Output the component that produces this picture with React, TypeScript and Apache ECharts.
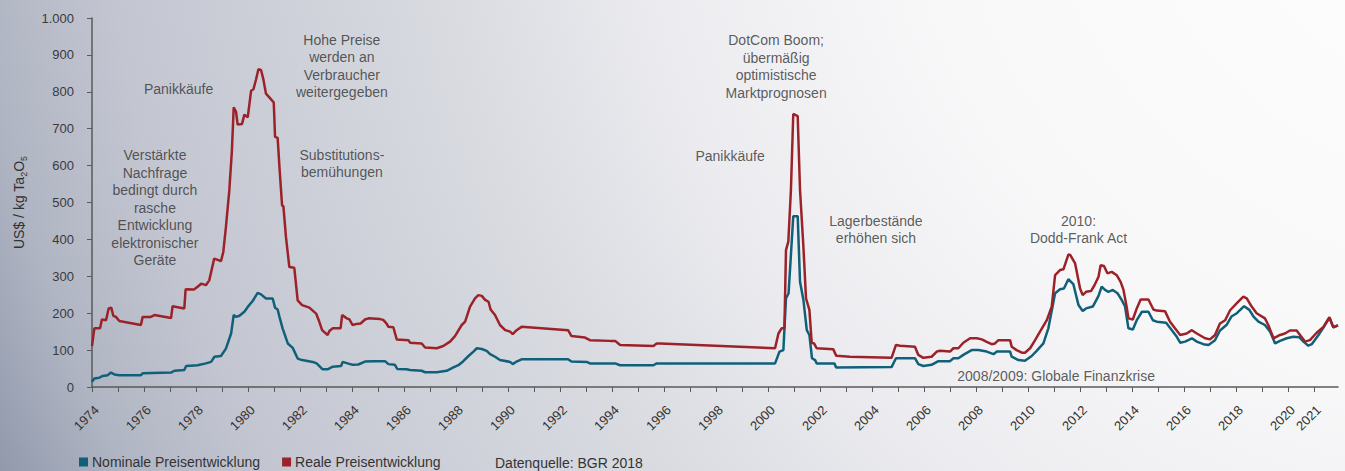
import React, { useEffect, useRef } from "react";
import * as echarts from "echarts";

const FONT = "'Liberation Sans', Arial, Helvetica, sans-serif";

// Nominal price (US$/kg Ta2O5): [year, value]
const nominalPoints: [number, number][] = [
  [1974.0, 14], [1974.09, 23], [1974.28, 25], [1974.41, 30], [1974.6, 32], [1974.73, 39], [1974.86, 34],
  [1975.05, 32], [1975.88, 32], [1975.95, 37], [1977.04, 39], [1977.17, 44], [1977.55, 46], [1977.62, 57],
  [1978.06, 59], [1978.38, 64], [1978.58, 68], [1978.71, 82], [1978.96, 84], [1979.15, 104], [1979.35, 145],
  [1979.45, 195], [1979.54, 190], [1979.67, 193], [1979.86, 204], [1979.99, 217], [1980.18, 233], [1980.37, 255],
  [1980.5, 251], [1980.69, 240], [1980.95, 240], [1981.04, 215], [1981.14, 210], [1981.21, 190], [1981.33, 159],
  [1981.53, 118], [1981.72, 106], [1981.91, 77], [1982.08, 73], [1982.49, 68], [1982.64, 64], [1982.87, 48],
  [1983.06, 48], [1983.26, 55], [1983.58, 57], [1983.64, 68], [1983.83, 64], [1984.03, 60], [1984.24, 61],
  [1984.5, 69], [1984.82, 70], [1985.27, 70], [1985.4, 62], [1985.65, 60], [1985.74, 49], [1986.1, 48],
  [1986.23, 46], [1986.68, 44], [1986.81, 40], [1987.26, 40], [1987.64, 44], [1987.9, 53], [1988.09, 59],
  [1988.28, 70], [1988.48, 84], [1988.67, 96], [1988.8, 105], [1988.99, 103], [1989.18, 98], [1989.31, 89],
  [1989.5, 82], [1989.69, 73], [1990.08, 68], [1990.18, 62], [1990.33, 69], [1990.52, 75], [1992.31, 75],
  [1992.44, 69], [1993.03, 68], [1993.15, 64], [1994.12, 64], [1994.31, 59], [1995.59, 59], [1995.72, 64],
  [2000.27, 64], [2000.44, 96], [2000.59, 100], [2000.69, 240], [2000.79, 254], [2000.97, 463], [2001.14, 463],
  [2001.23, 285], [2001.36, 236], [2001.49, 154], [2001.59, 141], [2001.69, 78], [2001.81, 73], [2001.87, 64],
  [2002.55, 64], [2002.62, 53], [2004.75, 54], [2004.92, 78], [2005.65, 78], [2005.78, 62], [2005.97, 57],
  [2006.29, 60], [2006.55, 70], [2007.0, 70], [2007.13, 78], [2007.32, 78], [2007.51, 87], [2007.83, 100],
  [2008.09, 100], [2008.41, 96], [2008.67, 89], [2008.8, 96], [2009.31, 96], [2009.37, 82], [2009.63, 73],
  [2009.88, 71], [2010.14, 84], [2010.33, 98], [2010.59, 118], [2010.78, 159], [2011.04, 254], [2011.23, 265],
  [2011.38, 267], [2011.55, 292], [2011.74, 279], [2011.94, 222], [2012.1, 206], [2012.23, 213], [2012.49, 218],
  [2012.71, 247], [2012.83, 272], [2012.96, 263], [2013.09, 258], [2013.26, 263], [2013.44, 254], [2013.6, 236],
  [2013.73, 218], [2013.86, 159], [2014.03, 156], [2014.18, 181], [2014.38, 204], [2014.63, 204], [2014.8, 181],
  [2014.95, 177], [2015.31, 174], [2015.53, 154], [2015.72, 136], [2015.85, 120], [2016.04, 123], [2016.3, 132],
  [2016.49, 123], [2016.74, 116], [2016.94, 114], [2017.19, 127], [2017.38, 153], [2017.63, 168], [2017.82, 191],
  [2018.03, 200], [2018.31, 219], [2018.51, 209], [2018.67, 191], [2018.86, 177], [2019.11, 168], [2019.31, 150],
  [2019.5, 118], [2019.69, 125], [2019.95, 132], [2020.2, 136], [2020.43, 135], [2020.59, 123], [2020.78, 112],
  [2020.91, 116], [2021.17, 141], [2021.36, 161], [2021.59, 188], [2021.74, 162], [2021.92, 167],
];

// Real price (US$/kg Ta2O5): [year, value]
const realPoints: [number, number][] = [
  [1974.0, 111], [1974.09, 159], [1974.31, 159], [1974.38, 183], [1974.54, 181], [1974.64, 213], [1974.74, 215],
  [1974.82, 193], [1974.92, 190], [1975.05, 179], [1975.88, 168], [1975.95, 190], [1976.26, 190], [1976.4, 195],
  [1977.04, 187], [1977.1, 219], [1977.55, 213], [1977.6, 265], [1977.92, 264], [1978.05, 271], [1978.2, 280],
  [1978.38, 276], [1978.51, 289], [1978.7, 348], [1978.96, 341], [1979.05, 366], [1979.15, 433], [1979.28, 532],
  [1979.38, 640], [1979.45, 758], [1979.54, 746], [1979.6, 711], [1979.77, 713], [1979.86, 738], [1979.99, 731],
  [1980.12, 803], [1980.21, 807], [1980.31, 834], [1980.4, 861], [1980.5, 859], [1980.59, 834], [1980.69, 795],
  [1980.82, 785], [1980.99, 771], [1981.04, 678], [1981.14, 675], [1981.21, 595], [1981.31, 492], [1981.36, 490],
  [1981.46, 406], [1981.59, 325], [1981.78, 323], [1981.91, 235], [1982.08, 222], [1982.36, 215], [1982.62, 199],
  [1982.72, 181], [1982.85, 154], [1983.06, 141], [1983.13, 152], [1983.26, 159], [1983.56, 159], [1983.62, 195],
  [1983.8, 186], [1983.9, 183], [1984.02, 168], [1984.18, 171], [1984.33, 172], [1984.5, 183], [1984.63, 186],
  [1985.08, 184], [1985.2, 182], [1985.33, 172], [1985.4, 163], [1985.59, 162], [1985.72, 129], [1986.17, 127],
  [1986.23, 120], [1986.68, 118], [1986.81, 107], [1987.26, 105], [1987.51, 111], [1987.77, 123], [1987.96, 138],
  [1988.22, 168], [1988.35, 177], [1988.54, 218], [1988.73, 240], [1988.86, 249], [1988.99, 247], [1989.12, 236],
  [1989.25, 231], [1989.33, 210], [1989.5, 195], [1989.69, 168], [1989.89, 154], [1990.08, 150], [1990.18, 143],
  [1990.33, 154], [1990.52, 163], [1992.31, 154], [1992.44, 138], [1992.96, 134], [1993.15, 127], [1993.92, 125],
  [1994.12, 125], [1994.31, 114], [1995.59, 111], [1995.72, 118], [1995.85, 118], [2000.27, 105], [2000.4, 145],
  [2000.52, 159], [2000.63, 159], [2000.69, 371], [2000.78, 394], [2000.88, 534], [2000.97, 740], [2001.14, 734],
  [2001.23, 534], [2001.36, 380], [2001.46, 240], [2001.59, 209], [2001.68, 120], [2001.77, 118], [2001.87, 105],
  [2002.51, 102], [2002.62, 85], [2003.15, 82], [2004.75, 79], [2004.92, 114], [2005.08, 112], [2005.65, 109],
  [2005.78, 87], [2005.97, 79], [2006.29, 82], [2006.49, 96], [2006.62, 98], [2007.0, 96], [2007.13, 105],
  [2007.32, 105], [2007.51, 120], [2007.77, 132], [2008.03, 132], [2008.22, 129], [2008.41, 122], [2008.6, 116],
  [2008.73, 118], [2008.86, 127], [2009.31, 127], [2009.37, 109], [2009.56, 100], [2009.76, 93], [2009.88, 93],
  [2010.08, 105], [2010.27, 127], [2010.46, 150], [2010.72, 181], [2010.91, 218], [2011.04, 303], [2011.23, 317],
  [2011.36, 319], [2011.55, 359], [2011.62, 358], [2011.81, 335], [2012.0, 267], [2012.1, 249], [2012.23, 258],
  [2012.42, 260], [2012.55, 275], [2012.71, 299], [2012.79, 330], [2012.92, 328], [2013.05, 308], [2013.22, 312],
  [2013.41, 303], [2013.56, 285], [2013.67, 263], [2013.79, 218], [2013.86, 186], [2014.03, 183], [2014.18, 213],
  [2014.33, 237], [2014.63, 237], [2014.82, 210], [2014.95, 207], [2015.27, 205], [2015.46, 177], [2015.65, 159],
  [2015.85, 141], [2016.1, 145], [2016.3, 154], [2016.49, 145], [2016.81, 132], [2017.0, 129], [2017.19, 141],
  [2017.38, 172], [2017.58, 181], [2017.77, 208], [2018.03, 227], [2018.28, 245], [2018.41, 240], [2018.6, 218],
  [2018.79, 200], [2019.11, 186], [2019.24, 168], [2019.44, 132], [2019.69, 141], [2019.88, 145], [2020.07, 153],
  [2020.33, 153], [2020.46, 141], [2020.65, 123], [2020.84, 127], [2021.1, 147], [2021.36, 163], [2021.59, 189],
  [2021.74, 162], [2021.92, 167],
];

// Annotations anchored in data coordinates (year, value)
const annotationTexts: string[] = [
  "Verstärkte\nNachfrage\nbedingt durch\nrasche\nEntwicklung\nelektronischer\nGeräte",
  "Panikkäufe",
  "Hohe Preise\nwerden an\nVerbraucher\nweitergegeben",
  "Substitutions-\nbemühungen",
  "DotCom Boom;\nübermäßig\noptimistische\nMarktprognosen",
  "Panikkäufe",
  "Lagerbestände\nerhöhen sich",
  "2010:\nDodd-Frank Act",
  "2008/2009: Globale Finanzkrise",
];
const annotationYears: number[] = [1976.42, 1977.33, 1983.61, 1983.61, 2000.31, 1998.54, 2004.15, 2011.94, 2011.08];
const annotationValues: number[] = [486, 808, 870, 606, 869, 626, 427, 427, 29];

const seriesNames: string[] = ["Nominale Preisentwicklung", "Reale Preisentwicklung"];
const sourceNote = "Datenquelle: BGR 2018";
const yAxisTitleParts: string[] = ["US$ / kg Ta", "2", "O", "5"];

const NOMINAL_COLOR = "#11607a";
const REAL_COLOR = "#9c2229";
const TEXT_COLOR = "#333333";
const AXIS_COLOR = "#5a5a5a";

function formatThousands(v: number): string {
  return String(v).replace(/\B(?=(\d{3})+(?!\d))/g, ".");
}

export default function App() {
  const ref = useRef<HTMLDivElement>(null);

  useEffect(() => {
    if (!ref.current) return;
    const chart = echarts.init(ref.current, undefined, { renderer: "svg" });

    const annotationData = annotationTexts.map((t, i) => ({
      value: [annotationYears[i], annotationValues[i]],
      label: { formatter: t },
    }));

    chart.setOption({
      animation: false,
      backgroundColor: "transparent",
      textStyle: { fontFamily: FONT },
      grid: { left: 92, right: 7, top: 18, bottom: 84, containLabel: false },
      legend: {
        data: seriesNames,
        left: 79,
        top: 455,
        icon: "rect",
        itemWidth: 9,
        itemHeight: 9,
        itemGap: 22,
        padding: 0,
        textStyle: { fontSize: 14, color: TEXT_COLOR, fontFamily: FONT, padding: [0, 0, 0, -1] },
      },
      xAxis: {
        type: "value",
        min: 1974,
        max: 2021.92,
        interval: 1,
        axisLine: { show: true, onZero: false, lineStyle: { color: AXIS_COLOR, width: 1.5 } },
        axisTick: { show: true, length: 5, lineStyle: { color: AXIS_COLOR, width: 1 } },
        splitLine: { show: false },
        axisLabel: {
          rotate: 45,
          margin: 16,
          align: "right",
          verticalAlign: "top",
          fontSize: 13,
          color: TEXT_COLOR,
          fontFamily: FONT,
          showMaxLabel: false,
          formatter: (v: number) =>
            Number.isInteger(v) && ((v % 2 === 0 && v <= 2020) || v === 2021) ? String(v) : "",
        },
      },
      yAxis: {
        type: "value",
        min: 0,
        max: 1000,
        interval: 100,
        name: `{n|${yAxisTitleParts[0]}}{s|${yAxisTitleParts[1]}}{n|${yAxisTitleParts[2]}}{s|${yAxisTitleParts[3]}}`,
        nameLocation: "middle",
        nameGap: 64,
        nameTextStyle: {
          color: TEXT_COLOR,
          fontFamily: FONT,
          rich: {
            n: { fontSize: 14, color: TEXT_COLOR, fontFamily: FONT, lineHeight: 18 },
            s: { fontSize: 9, color: TEXT_COLOR, fontFamily: FONT, verticalAlign: "bottom", lineHeight: 10 },
          },
        },
        axisLine: { show: true, lineStyle: { color: AXIS_COLOR, width: 1.5 } },
        axisTick: { show: true, length: 5, lineStyle: { color: AXIS_COLOR, width: 1 } },
        splitLine: { show: false },
        axisLabel: {
          margin: 18,
          fontSize: 13,
          color: "#3a3a3a",
          fontFamily: FONT,
          formatter: (v: number) => formatThousands(v),
        },
      },
      graphic: [
        {
          type: "text",
          x: 495,
          y: 463,
          style: {
            text: sourceNote,
            fill: TEXT_COLOR,
            font: `14px ${FONT}`,
            verticalAlign: "middle",
          },
        },
      ],
      series: [
        {
          name: seriesNames[0],
          type: "line",
          data: nominalPoints,
          showSymbol: false,
          symbol: "none",
          lineStyle: { color: NOMINAL_COLOR, width: 2.5 },
          itemStyle: { color: NOMINAL_COLOR },
          z: 3,
        },
        {
          name: seriesNames[1],
          type: "line",
          data: realPoints,
          showSymbol: false,
          symbol: "none",
          lineStyle: { color: REAL_COLOR, width: 2.5 },
          itemStyle: { color: REAL_COLOR },
          z: 4,
        },
        {
          name: "annotations",
          type: "scatter",
          data: annotationData,
          symbolSize: 1,
          itemStyle: { color: "rgba(0,0,0,0)" },
          silent: true,
          z: 5,
          label: {
            show: true,
            position: "inside",
            fontSize: 14,
            lineHeight: 17.5,
            color: TEXT_COLOR,
            fontFamily: FONT,
            align: "center",
            verticalAlign: "middle",
          },
        },
      ],
    });

    return () => chart.dispose();
  }, []);

  return (
    <div
      ref={ref}
      style={{
        position: "absolute",
        left: 0,
        top: 0,
        width: 1345,
        height: 471,
        background:
          "radial-gradient(circle 1650px at 1500px -200px, #ffffff 0px, #f8f8f9 600px, #ececf0 860px, #d9dbe1 1070px, #c3c6d1 1400px, #b0b5c3 1530px, #8f97aa 1650px)",
      }}
    />
  );
}
